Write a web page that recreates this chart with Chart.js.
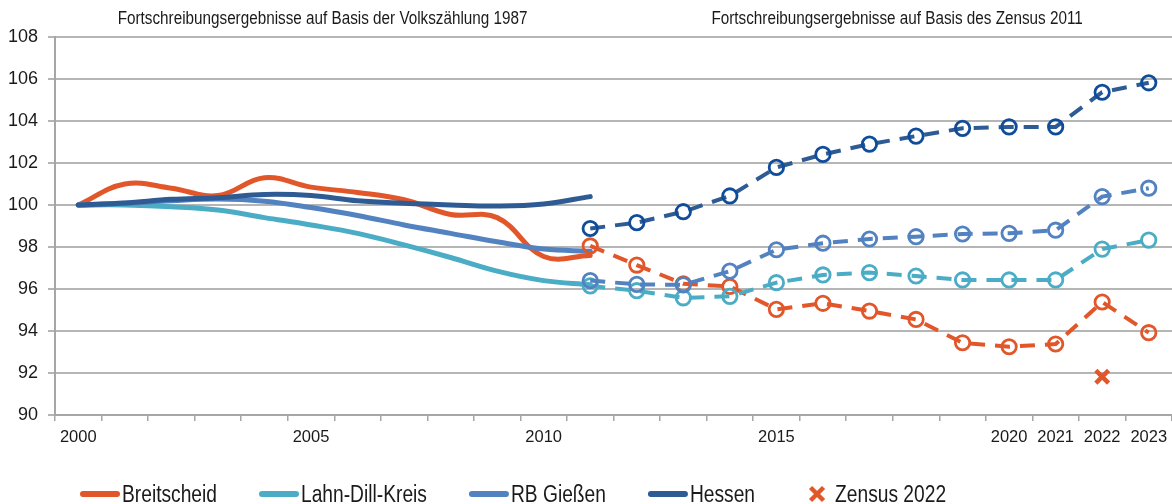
<!DOCTYPE html>
<html>
<head>
<meta charset="utf-8">
<script src="https://cdn.jsdelivr.net/npm/chart.js@4/dist/chart.umd.min.js"></script>
<style>
html,body{margin:0;padding:0;background:#ffffff;}
#wrap{width:1172px;height:504px;position:relative;overflow:hidden;}
canvas{display:block;}
</style>
</head>
<body>
<div id="wrap"><canvas id="chart" width="1172" height="504"></canvas></div>
<script>
// ---------- data ----------
const years = ['2000','2001','2002','2003','2004','2005','2006','2007','2008','2009','2010','2011',
               '2012','2013','2014','2015','2016','2017','2018','2019','2020','2021','2022','2023'];
const labelledYears = ['2000','2005','2010','2015','2020','2021','2022','2023'];
const yTickValues = [90, 92, 94, 96, 98, 100, 102, 104, 106, 108];
const sectionTitles = ['Fortschreibungsergebnisse auf Basis der Volkszählung 1987',
                       'Fortschreibungsergebnisse auf Basis des Zensus 2011'];
const seriesNames = ['Breitscheid', 'Lahn-Dill-Kreis', 'RB Gießen', 'Hessen'];
const zensusName = 'Zensus 2022';

// Basis Volkszählung 1987 (2000 = 100), 2000–2011
const breitscheid1987 = [100, 101.0, 100.8, 100.45, 101.3, 100.85, 100.6, 100.25, 99.55, 99.4, 97.55, 97.6];
const lahnDill1987    = [100, 100.0, 99.92, 99.76, 99.4, 99.05, 98.65, 98.1, 97.5, 96.85, 96.4, 96.2];
const rbGiessen1987   = [100, 100.08, 100.2, 100.28, 100.18, 99.88, 99.5, 99.05, 98.65, 98.25, 97.9, 97.8];
const hessen1987      = [100, 100.1, 100.27, 100.35, 100.5, 100.45, 100.2, 100.08, 100.0, 99.95, 100.05, 100.4];

// Basis Zensus 2011, 2011–2023
const breitscheid2011 = [98.05, 97.14, 96.25, 96.12, 95.03, 95.32, 94.95, 94.55, 93.44, 93.25, 93.38, 95.38, 93.92];
const lahnDill2011    = [96.15, 95.92, 95.58, 95.65, 96.3, 96.67, 96.78, 96.62, 96.43, 96.43, 96.43, 97.9, 98.33];
const rbGiessen2011   = [96.4, 96.22, 96.2, 96.85, 97.87, 98.18, 98.38, 98.49, 98.62, 98.65, 98.8, 100.4, 100.8];
const hessen2011      = [98.88, 99.16, 99.68, 100.43, 101.79, 102.41, 102.9, 103.28, 103.65, 103.72, 103.72, 105.37, 105.82];

// Zensus 2022 (Breitscheid), year 2022
const breitscheidZensus2022 = [91.82];

// ---------- styling ----------
const FONT = "'Liberation Sans', Arial, sans-serif";
const NARROW = 0.835; // horizontal compression of the reference lettering
const COLORS = {
  breitscheid: '#E2572A',
  lahnDill: '#4BACC6',
  rbGiessen: '#5282C0',
  hessen: '#2F5B95',
  hessenMarker: '#0F4C9A'
};
const legendColors = [COLORS.breitscheid, COLORS.lahnDill, COLORS.rbGiessen, COLORS.hessen];

function placeFrom(startYear, values) {
  const start = years.indexOf(startYear);
  return years.map((_, i) => (i >= start && i - start < values.length) ? values[i - start] : null);
}

function solid(label, values, color, order) {
  return {
    label: label,
    data: placeFrom('2000', values),
    borderColor: color,
    backgroundColor: color,
    borderWidth: 5,
    borderCapStyle: 'round',
    borderJoinStyle: 'round',
    pointRadius: 0,
    pointHoverRadius: 0,
    tension: 0.4,
    fill: false,
    spanGaps: false,
    order: order
  };
}
function dashed(label, values, color, markerColor, order) {
  return {
    label: label + ' (Basis Zensus 2011)',
    data: placeFrom('2011', values),
    borderColor: color,
    backgroundColor: color,
    borderWidth: 4,
    borderDash: [15, 10],
    borderCapStyle: 'butt',
    pointRadius: 7.2,
    pointHoverRadius: 7.2,
    pointBorderWidth: 2.8,
    pointBorderColor: markerColor,
    pointBackgroundColor: 'rgba(255,255,255,0)',
    tension: 0,
    fill: false,
    spanGaps: false,
    order: order
  };
}

const datasets = [
  solid(seriesNames[0], breitscheid1987, COLORS.breitscheid, 8),
  solid(seriesNames[1], lahnDill1987, COLORS.lahnDill, 7),
  solid(seriesNames[2], rbGiessen1987, COLORS.rbGiessen, 6),
  solid(seriesNames[3], hessen1987, COLORS.hessen, 5),
  dashed(seriesNames[0], breitscheid2011, COLORS.breitscheid, COLORS.breitscheid, 4),
  dashed(seriesNames[1], lahnDill2011, COLORS.lahnDill, COLORS.lahnDill, 3),
  dashed(seriesNames[2], rbGiessen2011, COLORS.rbGiessen, COLORS.rbGiessen, 2),
  dashed(seriesNames[3], hessen2011, COLORS.hessen, COLORS.hessenMarker, 1),
  {
    label: zensusName,
    data: placeFrom('2022', breitscheidZensus2022),
    showLine: false,
    pointStyle: 'crossRot',
    pointRadius: 9,
    pointHoverRadius: 9,
    pointBorderWidth: 4.5,
    pointBorderColor: COLORS.breitscheid,
    borderColor: COLORS.breitscheid,
    backgroundColor: COLORS.breitscheid,
    order: 0
  }
];

// draw text compressed horizontally, like the narrow lettering of the reference
function narrowText(ctx, text, x, y, align) {
  const w = ctx.measureText(text).width * NARROW;
  let left = x;
  if (align === 'center') left = x - w / 2;
  else if (align === 'right') left = x - w;
  ctx.save();
  ctx.translate(left, y);
  ctx.scale(NARROW, 1);
  ctx.textAlign = 'left';
  ctx.fillText(text, 0, 0);
  ctx.restore();
  return w;
}

// ---------- plugins ----------
const sectionTitlePlugin = {
  id: 'sectionTitles',
  afterDraw(chart) {
    const ctx = chart.ctx;
    const xs = chart.scales.x;
    const split = xs.getPixelForValue(years.indexOf('2011'));
    ctx.save();
    ctx.font = '18.3px ' + FONT;
    ctx.fillStyle = '#1a1a1a';
    ctx.textBaseline = 'alphabetic';
    narrowText(ctx, sectionTitles[0], (chart.chartArea.left + split) / 2, 24, 'center');
    narrowText(ctx, sectionTitles[1], (split + chart.chartArea.right) / 2 + 16, 24, 'center');
    ctx.restore();
  }
};

const bottomLegendPlugin = {
  id: 'bottomLegend',
  afterDraw(chart) {
    const ctx = chart.ctx;
    ctx.save();
    ctx.font = '23px ' + FONT;
    ctx.fillStyle = '#1a1a1a';
    ctx.textBaseline = 'alphabetic';
    const lineY = 494, textY = 501.5, gap = 42;
    let x = 80;
    seriesNames.forEach((name, i) => {
      ctx.strokeStyle = legendColors[i];
      ctx.lineWidth = 6;
      ctx.lineCap = 'round';
      ctx.beginPath();
      ctx.moveTo(x + 3, lineY);
      ctx.lineTo(x + 37, lineY);
      ctx.stroke();
      const w = narrowText(ctx, name, x + 42, textY, 'left');
      x = x + 42 + w + gap;
    });
    // Zensus marker
    const cx = x + 20, cy = lineY, r = 6.5;
    ctx.strokeStyle = COLORS.breitscheid;
    ctx.lineWidth = 4.5;
    ctx.lineCap = 'butt';
    ctx.beginPath();
    ctx.moveTo(cx - r, cy - r); ctx.lineTo(cx + r, cy + r);
    ctx.moveTo(cx + r, cy - r); ctx.lineTo(cx - r, cy + r);
    ctx.stroke();
    narrowText(ctx, zensusName, x + 38, textY, 'left');
    ctx.restore();
  }
};

// ---------- chart ----------
new Chart(document.getElementById('chart'), {
  type: 'line',
  data: { labels: years, datasets: datasets },
  options: {
    responsive: false,
    animation: false,
    devicePixelRatio: 1,
    layout: { autoPadding: false, padding: { top: 37, right: 0, bottom: 0, left: 0 } },
    plugins: {
      legend: { display: false },
      title: { display: false },
      tooltip: { enabled: false }
    },
    scales: {
      x: {
        type: 'category',
        offset: true,
        grid: {
          offset: true,
          drawOnChartArea: false,
          drawTicks: true,
          tickLength: 6,
          color: '#a6a6a6',
          lineWidth: 1.5
        },
        border: { display: true, color: '#a6a6a6', width: 2 },
        ticks: {
          autoSkip: false,
          maxRotation: 0,
          minRotation: 0,
          padding: 7,
          color: '#1a1a1a',
          font: { family: FONT, size: 16.5 },
          callback: function (value, index) {
            const y = years[index];
            return labelledYears.includes(y) ? y : '';
          }
        },
        afterFit(scale) {
          scale.height = 89;
          scale.paddingLeft = 0;
          scale.paddingRight = 0;
        }
      },
      y: {
        min: yTickValues[0],
        max: yTickValues[yTickValues.length - 1],
        afterBuildTicks(scale) { scale.ticks = yTickValues.map(v => ({ value: v })); },
        grid: {
          drawOnChartArea: true,
          drawTicks: true,
          tickLength: 7,
          color: '#b5b5b5',
          lineWidth: 2
        },
        border: { display: true, color: '#a6a6a6', width: 2 },
        ticks: {
          padding: 10,
          color: '#1a1a1a',
          font: { family: FONT, size: 18 }
        },
        afterFit(scale) { scale.width = 55; }
      }
    }
  },
  plugins: [sectionTitlePlugin, bottomLegendPlugin]
});
</script>
</body>
</html>
